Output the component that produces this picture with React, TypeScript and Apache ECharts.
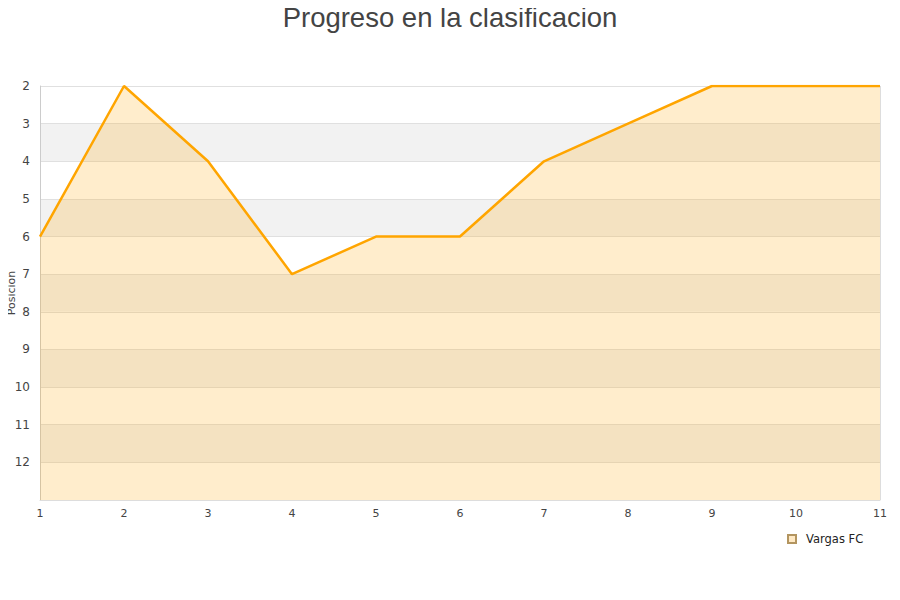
import React, { useEffect, useRef } from "react";
import * as echarts from "echarts";

const rounds = ["1", "2", "3", "4", "5", "6", "7", "8", "9", "10", "11"];
const positions = [6, 2, 4, 7, 6, 6, 4, 3, 2, 2, 2];
const teamName = "Vargas FC";
const titleText = "Progreso en la clasificacion";
const yAxisName = "Posicion";

export default function App() {
  const ref = useRef<HTMLDivElement>(null);
  useEffect(() => {
    if (!ref.current) return;
    const chart = echarts.init(ref.current, undefined, { renderer: "svg" });
    chart.setOption({
      animation: false,
      title: {
        text: titleText,
        left: "center",
        top: 0,
        padding: [3, 5, 5, 5],
        textStyle: {
          fontSize: 27.5,
          fontWeight: "normal",
          color: "#444",
          fontFamily: "Liberation Sans, Arial, sans-serif",
        },
      },
      graphic: [
        {
          type: "text",
          x: 11,
          y: 293,
          rotation: Math.PI / 2,
          style: {
            text: yAxisName,
            fontSize: 11,
            fill: "#444",
            fontFamily: "DejaVu Sans, sans-serif",
            textAlign: "center",
            textVerticalAlign: "middle",
          },
        },
      ],
      grid: { left: 40, right: 20, top: 86, bottom: 100, containLabel: false, outerBoundsMode: "none" },
      legend: {
        data: [teamName],
        left: 782,
        top: 528,
        icon: "rect",
        itemWidth: 8,
        itemHeight: 8,
        itemGap: 6,
        textStyle: { fontSize: 11.5, color: "#222", fontFamily: "DejaVu Sans, sans-serif", padding: [0, 0, 0, 5] },
      },
      xAxis: {
        type: "category",
        data: rounds,
        boundaryGap: false,
        axisLine: { show: true, lineStyle: { color: "#ddd" } },
        axisTick: { show: false },
        axisLabel: { color: "#444", fontSize: 11, margin: 8, fontFamily: "DejaVu Sans, sans-serif" },
        splitLine: { show: true, lineStyle: { color: "#ddd" }, interval: (i: number) => i === rounds.length - 1 },
      },
      yAxis: {
        type: "value",
        inverse: true,
        min: 2,
        max: 13,
        interval: 1,
        axisLine: { show: true, lineStyle: { color: "#ccc" } },
        axisTick: { show: false },
        axisLabel: {
          color: "#444",
          fontSize: 12,
          margin: 10,
          fontFamily: "DejaVu Sans, sans-serif",
          formatter: (v: number) => (v === 13 ? "" : String(v)),
        },
        splitLine: { show: true, lineStyle: { color: "#e0e0e0" } },
        splitArea: { show: true, areaStyle: { color: ["#ffffff", "#f2f2f2"] } },
      },
      series: [
        {
          name: teamName,
          type: "line",
          data: positions,
          symbol: "none",
          lineStyle: { color: "#FFA500", width: 2.5 },
          itemStyle: { color: "#FFE9C4", borderColor: "#B39560", borderWidth: 1 },
          areaStyle: { color: "#FFA500", opacity: 0.2, origin: "end" },
        },
      ],
    });
    return () => chart.dispose();
  }, []);
  return <div ref={ref} style={{ width: 900, height: 600, marginLeft: -8, marginTop: -8 }} />;
}
